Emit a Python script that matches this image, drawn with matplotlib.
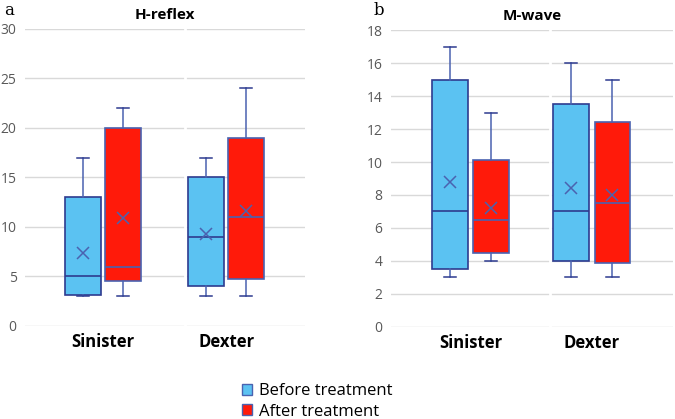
import matplotlib
matplotlib.use("Agg")
import matplotlib.pyplot as plt
from matplotlib.patches import Patch

plt.rcParams['font.family'] = ['Open Sans', 'DejaVu Sans']

# 데이터
categories = ["Sinister", "Dexter"]
groups = ["Before treatment", "After treatment"]

# H-reflex: [Sinister, Dexter]
h_before_low = [3, 3]
h_before_q1 = [3.1, 4]
h_before_med = [5, 9]
h_before_q3 = [13, 15]
h_before_high = [17, 17]
h_before_mean = [7.4, 9.3]

h_after_low = [3, 3]
h_after_q1 = [4.5, 4.7]
h_after_med = [6, 11]
h_after_q3 = [20, 19]
h_after_high = [22, 24]
h_after_mean = [10.9, 11.6]

# M-wave
m_before_low = [3, 3]
m_before_q1 = [3.5, 4]
m_before_med = [7, 7]
m_before_q3 = [15, 13.5]
m_before_high = [17, 16]
m_before_mean = [8.8, 8.4]

m_after_low = [4, 3]
m_after_q1 = [4.5, 3.9]
m_after_med = [6.5, 7.5]
m_after_q3 = [10.1, 12.4]
m_after_high = [13, 15]
m_after_mean = [7.2, 8.0]

BLUE = "#5BC2F2"
RED = "#FF1A0A"
NAVY = "#2E3B8F"
EDGE = "#4A62B0"
GRID = "#D9D9D9"


def make_stats(low, q1, med, q3, high, mean):
    return [dict(whislo=low[i], q1=q1[i], med=med[i], q3=q3[i],
                 whishi=high[i], mean=mean[i], fliers=[])
            for i in range(len(low))]


def draw_panel(ax, before, after, ylim, yticks, title, xlim, offset, sep):
    for stats, col, edge, sign in [(before, BLUE, NAVY, -1), (after, RED, EDGE, 1)]:
        pos = [i + sign * offset for i in range(len(categories))]
        ax.bxp(stats, positions=pos, widths=0.295, patch_artist=True,
               showmeans=True, showcaps=True,
               boxprops=dict(facecolor=col, edgecolor=edge, linewidth=1.2),
               medianprops=dict(color=edge, linewidth=1.2),
               whiskerprops=dict(color=EDGE, linewidth=1.1),
               capprops=dict(color=NAVY, linewidth=1.1),
               meanprops=dict(marker="x", markeredgecolor=EDGE,
                              markersize=8, markeredgewidth=1.1),
               capwidths=0.1)
    ax.set_xlim(*xlim)
    ax.set_ylim(*ylim)
    ax.set_yticks(yticks)
    ax.set_xticks(range(len(categories)))
    ax.set_xticklabels(categories, fontsize=12, fontweight="bold")
    ax.tick_params(axis="both", length=0)
    ax.tick_params(axis="y", labelsize=10, labelcolor="#595959", pad=6)
    ax.tick_params(axis="x", pad=5)
    ax.yaxis.grid(True, color=GRID, linewidth=1)
    ax.set_axisbelow(True)
    ax.axvline(sep, color="white", linewidth=2, zorder=1)
    for s in ax.spines.values():
        s.set_visible(False)
    ax.set_title(title, fontsize=11, fontweight="bold", pad=7)


fig = plt.figure(figsize=(6.75, 4.19), dpi=100)
ax1 = fig.add_axes([0.037, 0.222, 0.415, 0.709])
ax2 = fig.add_axes([0.579, 0.220, 0.418, 0.708])

draw_panel(ax1,
           make_stats(h_before_low, h_before_q1, h_before_med, h_before_q3, h_before_high, h_before_mean),
           make_stats(h_after_low, h_after_q1, h_after_med, h_after_q3, h_after_high, h_after_mean),
           (0, 30), range(0, 31, 5), "H-reflex", (-0.634, 1.642), 0.162, 0.667)
draw_panel(ax2,
           make_stats(m_before_low, m_before_q1, m_before_med, m_before_q3, m_before_high, m_before_mean),
           make_stats(m_after_low, m_after_q1, m_after_med, m_after_q3, m_after_high, m_after_mean),
           (0, 18), range(0, 19, 2), "M-wave", (-0.654, 1.667), 0.169, 0.654)

# 패널 문자
fig.text(0.006, 0.975, "a", fontsize=12, family="DejaVu Serif", va="center")
fig.text(0.553, 0.975, "b", fontsize=12, family="DejaVu Serif", va="center")

handles = [Patch(facecolor=BLUE, edgecolor=EDGE, label=groups[0]),
           Patch(facecolor=RED, edgecolor=EDGE, label=groups[1])]
fig.legend(handles=handles, loc="lower left", bbox_to_anchor=(0.337, -0.037),
           frameon=False, fontsize=12, handlelength=0.6, handleheight=0.6,
           handletextpad=0.4, labelspacing=0.25)

fig.savefig("out.png", dpi=100)
